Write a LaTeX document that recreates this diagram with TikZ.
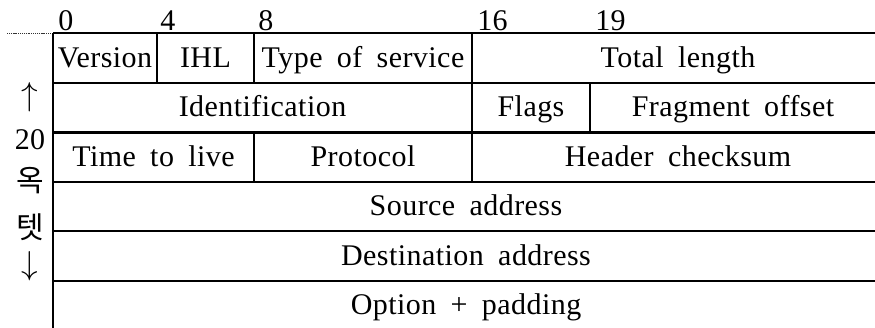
\documentclass[tikz,border=0pt]{standalone}
\usepackage{fontspec}
\setmainfont[WordSpace=1.8,LetterSpace=1.5]{Liberation Serif}
\newfontfamily\krfont{Noto Sans CJK KR}
\begin{document}
\begin{tikzpicture}[x=0.75pt,y=-0.75pt,
  rule/.style={line width=1.5pt},
  guide/.style={line width=0.8pt,dash pattern=on 0.8pt off 0.6pt,black!80},
  cell/.style={anchor=base,inner sep=0pt,font=\fontsize{22.5}{26}\selectfont},
  bit/.style={anchor=base west,inner sep=0pt,font=\fontsize{22.5}{26}\selectfont},
  side/.style={anchor=center,inner sep=0pt,font=\fontsize{22.5}{26}\selectfont},
  arrowsym/.style={anchor=center,inner sep=0pt,font=\fontsize{28}{30}\selectfont}]
\useasboundingbox (0,0) rectangle (875,328);

% horizontal rules of the header rows
\draw[guide] (7,33.5) -- (53,33.5);
\foreach \y in {33.5,83,132.5,182,231,280.5}
  \draw[rule] (53,\y) -- (875,\y);

% left border and field separators
\draw[rule] (53,33.5) -- (53,330);
\draw[rule] (157,33.5) -- (157,83);
\draw[rule] (254,33.5) -- (254,83);
\draw[rule] (254,132.5) -- (254,182);
\draw[rule] (472,33.5) -- (472,182);
\draw[rule] (590,83) -- (590,132.5);

% bit positions
\node[bit] (b0)  at (58,31) {0};
\node[bit] (b4)  at (160,31) {4};
\node[bit] (b8)  at (258,31) {8};
\node[bit] (b16) at (477,31) {16};
\node[bit] (b19) at (595,31) {19};

% header size on the left
\node[arrowsym] (up)  at (30,97) {$\uparrow$};
\node[side] (n20) at (30,140) {20};
\node[side] (ok)  at (30,181) {\krfont 옥};
\node[side] (tet) at (30,227) {\krfont 텟};
\node[arrowsym] (dn)  at (30,266) {$\downarrow$};

% row 1
\node[cell] (ver) at (105,67.5) {Version};
\node[cell] (ihl) at (205.5,67.5) {IHL};
\node[cell] (tos) at (363,67.5) {Type of service};
\node[cell] (len) at (678,67.5) {Total length};
% row 2
\node[cell] (id)   at (262.5,117) {Identification};
\node[cell] (flg)  at (531,117) {Flags};
\node[cell] (frag) at (733,117) {Fragment offset};
% row 3
\node[cell] (ttl)  at (153.5,166.5) {Time to live};
\node[cell] (prot) at (363,166.5) {Protocol};
\node[cell] (chk)  at (678,166.5) {Header checksum};
% rows 4 to 6
\node[cell] (src) at (466,215.5) {Source address};
\node[cell] (dst) at (466,265) {Destination address};
\node[cell] (opt) at (466,314) {Option + padding};
\end{tikzpicture}
\end{document}
